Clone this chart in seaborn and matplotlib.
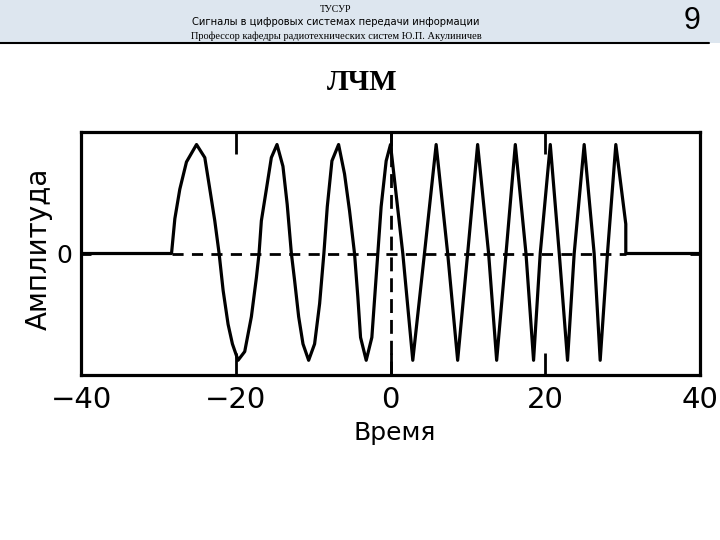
"""
LFM (chirp) pulse slide: amplitude vs time, redrawn from the lecture slide.
"""

import matplotlib
matplotlib.use("Agg")
import matplotlib.pyplot as plt
from matplotlib.lines import Line2D
from matplotlib.patches import Rectangle
import pandas as pd
import seaborn as sns

# chirp samples (time, amplitude)
time = [
    -40.0, -28.30, -27.87, -27.23, -26.37, -25.07, -24.00, -23.35, -22.71,
    -22.15, -21.63, -20.99, -20.43, -19.70, -18.84, -17.98, -17.33, -16.99,
    -16.69, -16.04, -15.40, -14.67, -13.90, -13.35, -12.81, -12.39, -11.87,
    -11.31, -10.58, -9.81, -9.16, -8.61, -8.17, -7.57, -6.71, -5.94, -5.29,
    -4.65, -4.22, -3.87, -3.14, -2.41, -1.98, -1.64, -1.21, -0.56, 0.00,
    1.59, 2.88, 4.39, 5.90, 7.39, 8.68, 9.97, 11.26, 12.68, 13.72, 14.93,
    16.13, 17.51, 18.49, 19.35, 20.65, 21.81, 22.88, 23.74, 25.03, 26.32,
    27.10, 28.04, 29.12, 30.41, 30.41, 40.0,
]
amplitude = [
    0.0, 0.0, 0.32, 0.59, 0.84, 1.00, 0.88, 0.59, 0.30,
    0.0, -0.34, -0.65, -0.83, -0.98, -0.90, -0.58, -0.22, 0.0,
    0.30, 0.59, 0.88, 1.00, 0.80, 0.45, 0.0, -0.25, -0.58,
    -0.83, -0.98, -0.83, -0.46, 0.0, 0.43, 0.85, 1.00, 0.73, 0.39,
    0.0, -0.40, -0.77, -0.98, -0.77, -0.34, 0.0, 0.43, 0.85, 1.00,
    0.0, -0.98, 0.0, 1.00, 0.0, -0.98, 0.0, 1.00, 0.0, -0.98, 0.0,
    1.00, 0.0, -0.98, 0.0, 1.00, 0.0, -0.98, 0.0, 1.00, 0.0,
    -0.98, 0.0, 1.00, 0.27, 0.0, 0.0,
]
pulse_start, pulse_end = -28.30, 30.41

x_ticks = [-40, -20, 0, 20, 40]
x_tick_labels = ["\u221240", "\u221220", "0", "20", "40"]

header_lines = [
    "ТУСУР",
    "Сигналы в цифровых системах передачи информации",
    "Профессор кафедры радиотехнических систем Ю.П. Акулиничев",
]
slide_number = "9"
slide_title = "ЛЧМ"

sns.set_style("white")
plt.rcParams["font.family"] = ["DejaVu Sans"]
plt.rcParams["text.color"] = "black"
plt.rcParams["axes.labelcolor"] = "black"
plt.rcParams["xtick.color"] = "black"
plt.rcParams["ytick.color"] = "black"
serif = ["Liberation Serif", "DejaVu Serif"]

df = pd.DataFrame({"t": time, "amp": amplitude})

W, H = 720, 540
fig = plt.figure(figsize=(7.2, 5.4), dpi=100)
fig.patch.set_facecolor("white")

# header band
fig.add_artist(Rectangle((0, 1 - 43 / H), 1, 43 / H, transform=fig.transFigure,
                         facecolor="#dde6ef", edgecolor="none", zorder=0))
fig.add_artist(Line2D([0, 0.985], [1 - 43 / H] * 2, transform=fig.transFigure,
                      color="black", lw=1.5))
fig.text(336 / W, 1 - 9 / H, header_lines[0], ha="center", va="center",
         fontsize=7, family=serif)
fig.text(336 / W, 1 - 22 / H, header_lines[1], ha="center", va="center",
         fontsize=7.2)
fig.text(336 / W, 1 - 36 / H, header_lines[2], ha="center", va="center",
         fontsize=7.5, family=serif)
fig.text(692 / W, 1 - 21 / H, slide_number, ha="center", va="center",
         fontsize=22, family=["Liberation Sans", "DejaVu Sans"])
fig.text(362 / W, 1 - 82 / H, slide_title, ha="center", va="center",
         fontsize=21, fontweight="bold", family=serif)

# plot area
ax = fig.add_axes([81 / W, 1 - 375 / H, 619 / W, 243 / H])
sns.lineplot(data=df, x="t", y="amp", sort=False, estimator=None,
             color="black", linewidth=2.3, ax=ax)
ax.plot([pulse_start, pulse_end], [0, 0], color="black", lw=2,
        linestyle=(0, (4, 3)))
ax.axvline(0, color="black", lw=2, linestyle=(0, (5, 2.5)))

ax.set_xlim(-40, 40)
ax.set_ylim(-1.115, 1.115)
ax.set_xticks(x_ticks)
ax.set_xticklabels(x_tick_labels, fontsize=21)
ax.set_yticks([0])
ax.set_yticklabels(["0"], fontsize=18)
ax.tick_params(axis="x", direction="in", length=16, width=2, top=True,
               bottom=True, pad=8)
ax.tick_params(axis="y", direction="in", length=7, width=2, left=True,
               right=True, pad=6)
for side in ax.spines.values():
    side.set_linewidth(2.3)
    side.set_color("black")

ax.set_xlabel("Время", fontsize=18)
ax.xaxis.set_label_coords((395 - 81) / 619, (375 - 421) / 243)
ax.set_ylabel("Амплитуда", fontsize=20)
ax.yaxis.set_label_coords((53 - 81) / 619, (375 - 249) / 243)

fig.savefig("out.png", dpi=100)
